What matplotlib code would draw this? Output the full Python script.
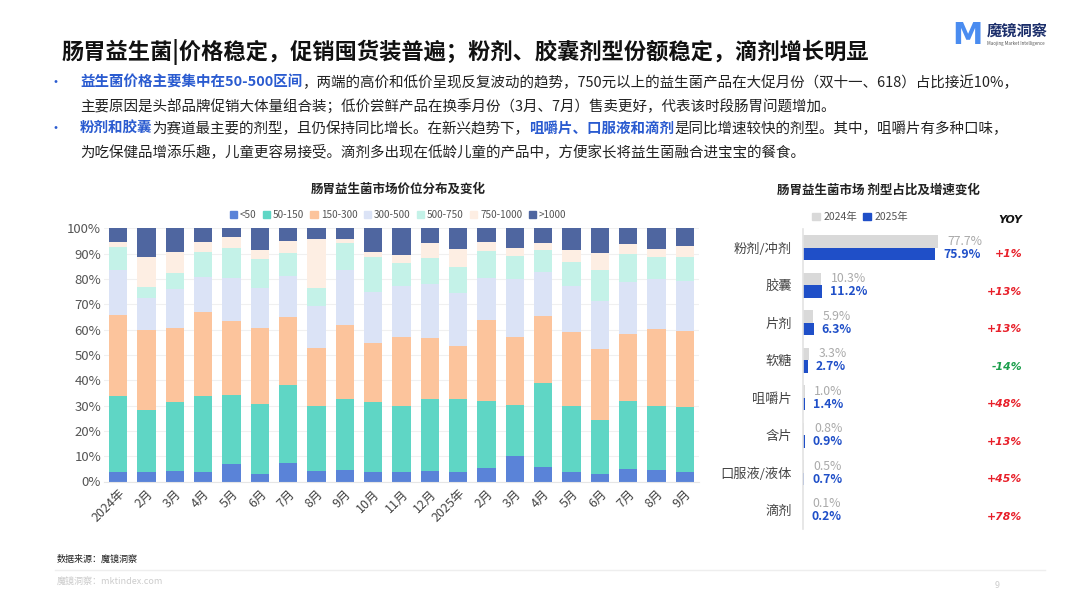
import matplotlib
matplotlib.use("Agg")
import matplotlib.pyplot as plt
from matplotlib.patches import Rectangle
from matplotlib.lines import Line2D

plt.rcParams['font.family'] = ['Noto Sans CJK SC', 'DejaVu Sans']

W, H = 1080, 608

# ---- data: left chart (share by price band, %) ----
months = ['2024年', '2月', '3月', '4月', '5月', '6月', '7月', '8月', '9月', '10月', '11月', '12月',
          '2025年', '2月', '3月', '4月', '5月', '6月', '7月', '8月', '9月']
bands = ['<50', '50-150', '150-300', '300-500', '500-750', '750-1000', '>1000']
p_lt50 = [3.9, 3.9, 4.2, 3.9, 6.8, 3.0, 7.2, 4.3, 4.6, 3.6, 3.6, 4.3, 3.7, 5.5, 9.9, 5.8, 3.7, 2.9, 4.9, 4.6, 3.7]
p_50_150 = [30.0, 24.5, 27.1, 29.7, 27.4, 27.8, 30.8, 25.4, 28.0, 27.7, 26.3, 28.2, 28.8, 26.3, 20.5, 33.1, 26.2, 21.4, 26.7, 25.3, 25.8]
p_150_300 = [31.8, 31.5, 29.5, 33.4, 29.0, 29.7, 26.9, 23.2, 29.1, 23.3, 27.3, 24.1, 21.2, 32.0, 26.7, 26.4, 29.0, 28.2, 26.7, 30.2, 30.0]
p_300_500 = [17.9, 12.7, 15.1, 13.7, 17.1, 16.1, 16.3, 16.4, 21.9, 20.4, 20.0, 21.3, 20.9, 16.5, 22.9, 17.3, 18.3, 18.6, 20.3, 19.9, 19.7]
p_500_750 = [8.9, 4.4, 6.5, 10.0, 11.9, 11.4, 9.2, 7.3, 10.5, 13.6, 9.0, 10.5, 10.0, 10.9, 9.2, 8.8, 9.6, 12.5, 11.1, 8.6, 9.4]
p_750_1000 = [2.2, 11.6, 8.1, 4.0, 4.5, 3.4, 4.6, 19.1, 1.6, 2.2, 3.3, 5.9, 7.1, 3.5, 3.2, 2.9, 4.6, 6.5, 4.1, 3.2, 4.6]
p_gt1000 = [5.3, 11.4, 9.5, 5.3, 3.3, 8.6, 5.0, 4.3, 4.3, 9.2, 10.5, 5.7, 8.3, 5.3, 7.6, 5.7, 8.6, 9.9, 6.2, 8.2, 6.8]
band_colors = ['#5a83d8', '#5fd6c5', '#fcc49c', '#dbe3f6', '#c4f2e8', '#fdeee3', '#4f66a0']

# ---- data: right chart (dosage form share, %) ----
forms = ['粉剂/冲剂', '胶囊', '片剂', '软糖', '咀嚼片', '含片', '口服液/液体', '滴剂']
share_2024 = [77.7, 10.3, 5.9, 3.3, 1.0, 0.8, 0.5, 0.1]
share_2025 = [75.9, 11.2, 6.3, 2.7, 1.4, 0.9, 0.7, 0.2]
yoy = ['+1%', '+13%', '+13%', '-14%', '+48%', '+13%', '+45%', '+78%']

fig = plt.figure(figsize=(W / 100, H / 100), dpi=100)
fig.patch.set_facecolor('white')


def fx(px):
    return px / W


def fy(py):
    return 1 - py / H


# ---- header ----
fig.text(fx(62), fy(52), '肠胃益生菌|价格稳定，促销囤货装普遍；粉剂、胶囊剂型份额稳定，滴剂增长明显',
         fontsize=16.0, fontweight='bold', color='#111111', va='center')

# logo
fig.text(fx(967), fy(36), 'M', fontsize=22, fontweight='bold', color='#4a8cf0', ha='center', va='center',
         family=['DejaVu Sans'])
fig.text(fx(987), fy(31), '魔镜洞察', fontsize=11, fontweight='bold', color='#1c2f6b', va='center')
fig.text(fx(987), fy(43), 'Maojing Market Intelligence', fontsize=3.2, color='#555555', va='center')

BLUE_TXT = '#2a5bd0'
renderer = fig.canvas.get_renderer()


def runs(x0, y0, parts, size=10.45):
    x = fx(x0)
    for s, hl in parts:
        t = fig.text(x, fy(y0), s, fontsize=size, va='center',
                     color=BLUE_TXT if hl else '#222222',
                     fontweight='bold' if hl else 'normal')
        bb = t.get_window_extent(renderer=renderer)
        x += bb.width / W


for yb in (83, 129):
    fig.text(fx(55), fy(yb), '•', fontsize=10, color=BLUE_TXT, va='center', ha='center')

runs(80, 83, [('益生菌价格主要集中在50-500区间', True),
              ('，两端的高价和低价呈现反复波动的趋势，750元以上的益生菌产品在大促月份（双十一、618）占比接近10%，', False)])
runs(80, 107, [('主要原因是头部品牌促销大体量组合装；低价尝鲜产品在换季月份（3月、7月）售卖更好，代表该时段肠胃问题增加。', False)])
runs(80, 129, [('粉剂和胶囊', True), ('为赛道最主要的剂型，且仍保持同比增长。在新兴趋势下，', False),
               ('咀嚼片、口服液和滴剂', True), ('是同比增速较快的剂型。其中，咀嚼片有多种口味，', False)])
runs(80, 152, [('为吃保健品增添乐趣，儿童更容易接受。滴剂多出现在低龄儿童的产品中，方便家长将益生菌融合进宝宝的餐食。', False)])

# ---- left chart ----
ax = fig.add_axes([fx(104), fy(481.5), fx(699) - fx(104), fy(228.3) - fy(481.5)])
series = [p_lt50, p_50_150, p_150_300, p_300_500, p_500_750, p_750_1000, p_gt1000]
x = list(range(len(months)))
bottom = [0.0] * len(months)
handles = []
for name, vals, c in zip(bands, series, band_colors):
    ax.bar(x, vals, 0.65, bottom=bottom, color=c, label=name, zorder=2)
    bottom = [b + v for b, v in zip(bottom, vals)]
    handles.append(Rectangle((0, 0), 1, 1, color=c))
ax.set_xlim(-0.5, len(months) - 0.5)
ax.set_ylim(0, 100)
ax.set_yticks(range(0, 101, 10))
ax.set_yticklabels([f'{v}%' for v in range(0, 101, 10)], fontsize=9.5, color='#555555')
ax.set_xticks(x)
ax.set_xticklabels(months, rotation=45, ha='right', rotation_mode='anchor', fontsize=9, color='#444444')
ax.grid(axis='y', color='#f0f0f0', linewidth=0.8, zorder=0)
for s in ['top', 'right', 'left']:
    ax.spines[s].set_visible(False)
ax.spines['bottom'].set_color('#e6e6e6')
ax.tick_params(length=0, pad=4)
ax.tick_params(axis='y', pad=2)

fig.text(fx(398), fy(189), '肠胃益生菌市场价位分布及变化', fontsize=9, fontweight='bold',
         color='#222222', ha='center', va='center')
fig.legend(handles, bands, loc='center', bbox_to_anchor=(fx(398), fy(215)), ncol=7, frameon=False,
           fontsize=7.2, handlelength=0.75, handleheight=0.75, handletextpad=0.3, columnspacing=0.6,
           labelcolor='#555555')

# ---- right chart ----
ax2 = fig.add_axes([fx(803), fy(529), fx(977) - fx(803), fy(229) - fy(529)])
yy = list(range(len(forms)))
ax2.barh([i - 0.17 for i in yy], share_2024, 0.33, color='#d9d9d9', zorder=2)
ax2.barh([i + 0.17 for i in yy], share_2025, 0.33, color='#1f4fc8', zorder=2)
ax2.set_xlim(0, 100)
ax2.set_ylim(len(forms) - 0.5, -0.5)
ax2.set_yticks(yy)
ax2.set_yticklabels(forms, fontsize=9.5, color='#444444')
ax2.set_xticks([])
for s in ['top', 'right', 'bottom']:
    ax2.spines[s].set_visible(False)
ax2.spines['left'].set_color('#e3e3e3')
ax2.spines['left'].set_linewidth(1.2)
ax2.tick_params(length=0, pad=8)
for i in yy:
    ax2.text(share_2024[i] + 5.5, i - 0.17, f'{share_2024[i]:.1f}%', fontsize=8.8, color='#aaaaaa',
             va='center')
    ax2.text(share_2025[i] + 4.5, i + 0.17, f'{share_2025[i]:.1f}%', fontsize=8.8, color='#1f4fc8',
             fontweight='bold', va='center')
    col = '#1a9e4b' if yoy[i].startswith('-') else '#e8202a'
    ax2.text(126, i + 0.17, yoy[i], fontsize=7.8, color=col, fontstyle='italic', fontweight='bold',
             ha='right', va='center', clip_on=False, family=['DejaVu Sans'])
ax2.text(126, -0.74, 'YOY', fontsize=7.8, color='#111111', fontstyle='italic', fontweight='bold',
         ha='right', va='center', clip_on=False, family=['DejaVu Sans'])

fig.text(fx(878), fy(190), '肠胃益生菌市场 剂型占比及增速变化', fontsize=9, fontweight='bold',
         color='#222222', ha='center', va='center')
fig.legend([Rectangle((0, 0), 1, 1, color='#d9d9d9'), Rectangle((0, 0), 1, 1, color='#1f4fc8')],
           ['2024年', '2025年'], loc='center', bbox_to_anchor=(fx(860), fy(217)), ncol=2, frameon=False,
           fontsize=7.5, handlelength=0.75, handleheight=0.75, handletextpad=0.3, columnspacing=0.6,
           labelcolor='#555555')

# ---- footer ----
fig.text(fx(57), fy(559), '数据来源：魔镜洞察', fontsize=6.5, color='#222222', va='center')
fig.add_artist(Line2D([fx(55), fx(1045)], [fy(570), fy(570)], color='#eeeeee', linewidth=1))
fig.text(fx(57), fy(582), '魔镜洞察：mktindex.com', fontsize=6.5, color='#cccccc', va='center')
fig.text(fx(995), fy(585), '9', fontsize=6.5, color='#cccccc', va='center')

fig.savefig('out.png', dpi=100)
